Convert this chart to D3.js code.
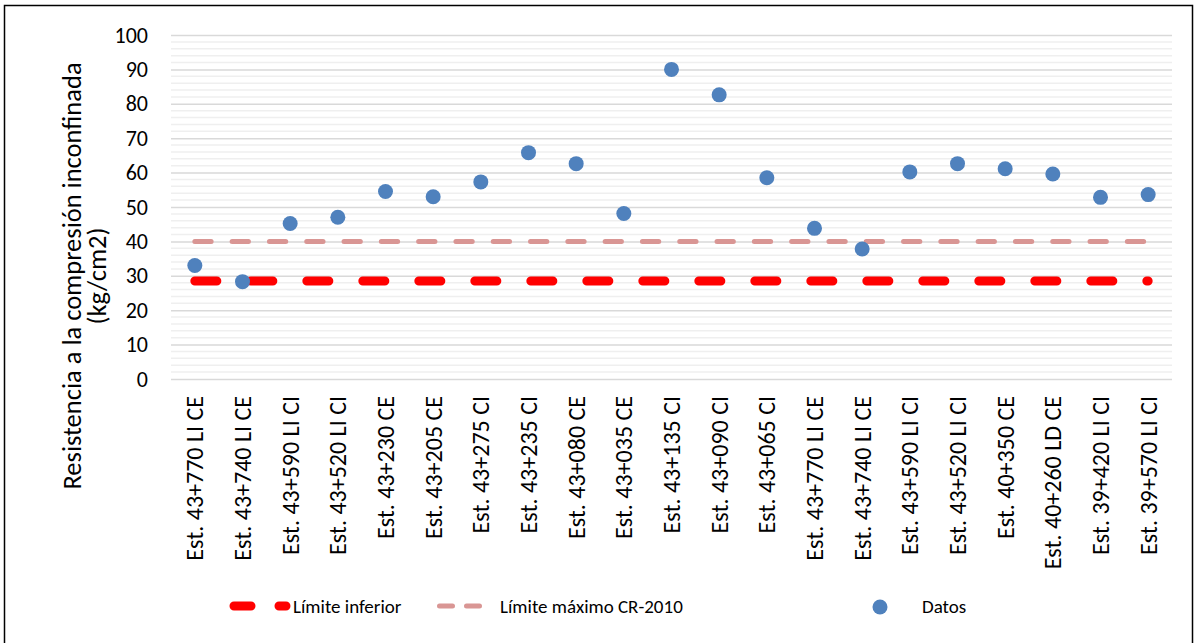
<!DOCTYPE html>
<html>
<head>
<meta charset="utf-8">
<script src="https://cdn.jsdelivr.net/npm/d3@7"></script>
<style>
  body { margin: 0; background: #fff; }
  svg { display: block; }
  text { font-family: Carlito, Calibri, Lato, sans-serif; fill: #000; }
</style>
</head>
<body>
<svg id="chart" width="1197" height="643"></svg>
<script>
const categories = [
  "Est. 43+770 LI CE", "Est. 43+740 LI CE", "Est. 43+590 LI CI", "Est. 43+520 LI CI",
  "Est. 43+230 CE", "Est. 43+205 CE", "Est. 43+275 CI", "Est. 43+235 CI",
  "Est. 43+080 CE", "Est. 43+035 CE", "Est. 43+135 CI", "Est. 43+090 CI",
  "Est. 43+065 CI", "Est. 43+770 LI CE", "Est. 43+740 LI CE", "Est. 43+590 LI CI",
  "Est. 43+520 LI CI", "Est. 40+350 CE", "Est. 40+260 LD CE", "Est. 39+420 LI CI",
  "Est. 39+570 LI CI"
];
const datos = [33, 28.3, 45.2, 47, 54.5, 53, 57.3, 65.8, 62.6, 48.1, 90, 82.6,
  58.5, 43.8, 37.8, 60.2, 62.6, 61.1, 59.6, 52.8, 53.6];
const limiteInferior = categories.map(() => 28.5);
const limiteMaximo = categories.map(() => 40);
const yTicks = [0, 10, 20, 30, 40, 50, 60, 70, 80, 90, 100];
const yMinorTicks = d3.range(0, 101, 2);
const seriesNames = ["Límite inferior", "Límite máximo CR-2010", "Datos"];
const yTitle = ["Resistencia a la compresión inconfinada", "(kg/cm2)"];

const FONT = "Carlito, Calibri, Lato, sans-serif";
const svg = d3.select("#chart");
const plot = { left: 171, right: 1172, top: 35, bottom: 379 };

// outer border
svg.append("rect").attr("x", 4.5).attr("y", 5.5).attr("width", 1188).attr("height", 640)
  .attr("fill", "none").attr("stroke", "#000").attr("stroke-width", 1.5);

const x = d3.scaleBand().domain(d3.range(categories.length)).range([plot.left, plot.right]);
const y = d3.scaleLinear().domain([0, 100]).range([plot.bottom, plot.top]);
const cx = i => x(i) + x.bandwidth() / 2;

// minor gridlines
svg.append("g").selectAll("line").data(yMinorTicks.filter(v => v % 10 !== 0)).join("line")
  .attr("x1", plot.left).attr("x2", plot.right)
  .attr("y1", d => y(d)).attr("y2", d => y(d))
  .attr("stroke", "#EFEFEF").attr("stroke-width", 1.5);

// major gridlines + y axis labels
const yAxis = d3.axisLeft(y).tickValues(yTicks).tickSize(-(plot.right - plot.left)).tickPadding(23);
const gy = svg.append("g").attr("transform", `translate(${plot.left},0)`).call(yAxis);
gy.select(".domain").remove();
gy.selectAll(".tick line").attr("stroke", "#D9D9D9").attr("stroke-width", 1.5);
gy.selectAll(".tick text").attr("font-size", 22).attr("font-family", FONT).attr("fill", "#000");

// x axis labels
const xAxis = d3.axisBottom(x).tickSize(0).tickFormat(i => categories[i]);
const gx = svg.append("g").attr("transform", `translate(0,${plot.bottom})`).call(xAxis);
gx.select(".domain").remove();
gx.selectAll(".tick text")
  .attr("font-size", 24).attr("font-family", FONT).attr("fill", "#000")
  .attr("text-anchor", "end").attr("dy", "0.35em")
  .attr("transform", "translate(0,17) rotate(-90)")
  .attr("x", 0).attr("y", 0);

// y title
const yt = svg.append("text").attr("transform", `translate(72,276) rotate(-90)`)
  .attr("text-anchor", "middle").attr("font-size", 26.5);
yt.append("tspan").attr("x", 0).attr("dy", "0.35em").text(yTitle[0]);
yt.append("tspan").attr("x", 0).attr("dy", 25).text(yTitle[1]);

const line = d3.line().x((d, i) => cx(i)).y(d => y(d));

// Límite máximo
svg.append("path").datum(limiteMaximo).attr("d", line)
  .attr("fill", "none").attr("stroke", "#D99694").attr("stroke-width", 5)
  .attr("stroke-linecap", "round").attr("stroke-dasharray", "16.3,21");

// Límite inferior
svg.append("path").datum(limiteInferior).attr("d", line)
  .attr("fill", "none").attr("stroke", "#FF0000").attr("stroke-width", 9)
  .attr("stroke-linecap", "round").attr("stroke-dasharray", "22,34");

// Datos
svg.append("g").selectAll("circle").data(datos).join("circle")
  .attr("cx", (d, i) => cx(i)).attr("cy", d => y(d)).attr("r", 7.5)
  .attr("fill", "#4F81BD");

// Legend
const ly = 606;
const lg = svg.append("g");
lg.append("line").attr("x1", 234).attr("x2", 286).attr("y1", ly).attr("y2", ly)
  .attr("stroke", "#FF0000").attr("stroke-width", 9).attr("stroke-linecap", "round")
  .attr("stroke-dasharray", "17,28");
lg.append("text").attr("x", 293).attr("y", ly).attr("dy", "0.35em").attr("font-size", 19).text(seriesNames[0]);
lg.append("line").attr("x1", 439.5).attr("x2", 480.5).attr("y1", ly).attr("y2", ly)
  .attr("stroke", "#D99694").attr("stroke-width", 5).attr("stroke-linecap", "round")
  .attr("stroke-dasharray", "13,14");
lg.append("text").attr("x", 500).attr("y", ly).attr("dy", "0.35em").attr("font-size", 19).text(seriesNames[1]);
lg.append("circle").attr("cx", 880).attr("cy", 607).attr("r", 7.5).attr("fill", "#4F81BD");
lg.append("text").attr("x", 922).attr("y", ly).attr("dy", "0.35em").attr("font-size", 19).text(seriesNames[2]);
</script>
</body>
</html>
